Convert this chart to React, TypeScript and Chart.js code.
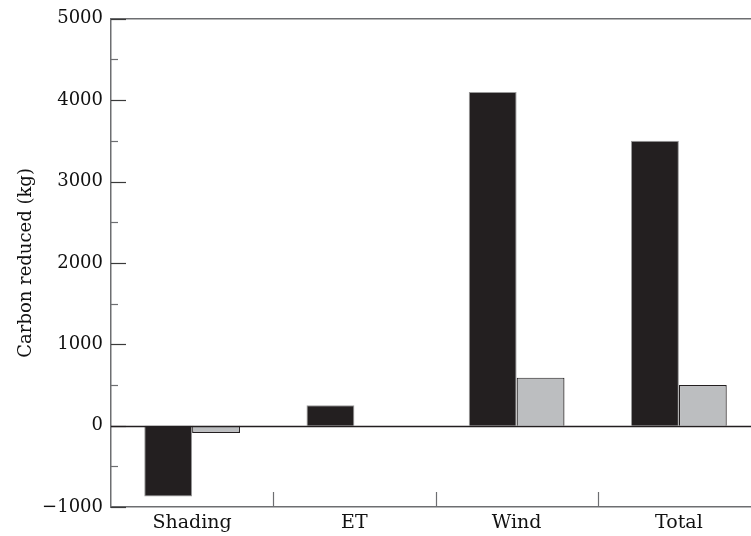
import React, { useEffect, useRef } from "react";
import { Chart, registerables } from "chart.js";

Chart.register(...registerables);

const categories = ["Shading", "ET", "Wind", "Total"];
const seriesA = [-870, 250, 4100, 3500];
const seriesB = [-90, 0, 590, 500];
const yMin = -1000;
const yMax = 5000;
const yStep = 500;
const yMajor = 1000;
const yAxisTitle = "Carbon reduced (kg)";

const DARK = "#231f20";
const GREY = "#bcbec0";
const AXIS = "#6d6e71";
const FONT = "'DejaVu Serif', serif";

const axisPlugin = {
  id: "axisDecor",
  afterDatasetsDraw(chart: any) {
    const { ctx, chartArea, scales } = chart;
    const y = scales.y;
    const x = scales.x;
    ctx.save();
    ctx.strokeStyle = AXIS;
    ctx.lineWidth = 1.5;
    ctx.beginPath();
    ctx.moveTo(chartArea.left, chartArea.top);
    ctx.lineTo(chartArea.right + 50, chartArea.top);
    ctx.stroke();
    y.ticks.forEach((t: any) => {
      const py = Math.round(y.getPixelForValue(t.value)) + 0.5;
      const major = t.value % yMajor === 0;
      ctx.strokeStyle = major ? "#3a3a3a" : AXIS;
      ctx.lineWidth = 1.2;
      ctx.beginPath();
      ctx.moveTo(chartArea.left, py);
      ctx.lineTo(chartArea.left + (major ? 15 : 7), py);
      ctx.stroke();
    });
    ctx.strokeStyle = AXIS;
    ctx.lineWidth = 1.2;
    for (let i = 1; i < categories.length; i++) {
      const px = Math.round((x.getPixelForValue(i - 1) + x.getPixelForValue(i)) / 2) + 0.5;
      ctx.beginPath();
      ctx.moveTo(px, chartArea.bottom);
      ctx.lineTo(px, chartArea.bottom - 15);
      ctx.stroke();
    }
    const zy = Math.round(y.getPixelForValue(0)) + 0.5;
    ctx.strokeStyle = DARK;
    ctx.lineWidth = 1.5;
    ctx.beginPath();
    ctx.moveTo(chartArea.left, zy);
    ctx.lineTo(chartArea.right + 50, zy);
    ctx.stroke();
    ctx.restore();
  },
};

export default function App() {
  const ref = useRef<HTMLCanvasElement>(null);
  useEffect(() => {
    if (!ref.current) return;
    const chart = new Chart(ref.current, {
      type: "bar",
      data: {
        labels: categories,
        datasets: [
          {
            data: seriesA,
            backgroundColor: DARK,
            borderColor: "#9a9a9a",
            borderWidth: 1,
          },
          {
            data: seriesB,
            backgroundColor: GREY,
            borderColor: DARK,
            borderWidth: 1.2,
          },
        ],
      },
      options: {
        responsive: false,
        animation: false,
        categoryPercentage: 0.59,
        barPercentage: 1,
        layout: { padding: { left: 16, top: 17, right: 40, bottom: 0 } },
        plugins: { legend: { display: false }, tooltip: { enabled: false } },
        scales: {
          x: {
            grid: { display: false, drawTicks: false },
            border: { display: true, color: AXIS, width: 1.5 },
            ticks: {
              color: "#111",
              font: { family: FONT, size: 19 },
              padding: 5,
              maxRotation: 0,
            },
            afterFit(s: any) {
              s.height = 29;
            },
          },
          y: {
            min: yMin,
            max: yMax,
            grid: { display: false, drawTicks: false },
            border: { display: true, color: AXIS, width: 1.5 },
            ticks: {
              stepSize: yStep,
              color: "#111",
              font: { family: FONT, size: 18 },
              padding: 8,
              callback: (v: any) =>
                Number(v) % yMajor === 0
                  ? (Number(v) < 0 ? "\u2212" + Math.abs(Number(v)) : String(v))
                  : "",
            },
            title: {
              display: true,
              text: yAxisTitle,
              color: "#111",
              font: { family: FONT, size: 18 },
              padding: 0,
            },
            afterFit(s: any) {
              s.width = 95;
            },
          },
        },
      },
      plugins: [axisPlugin],
    });
    return () => chart.destroy();
  }, []);
  return (
    <div
      style={{
        position: "fixed",
        left: 0,
        top: 0,
        width: 751,
        height: 536,
        overflow: "hidden",
        background: "#fff",
      }}
    >
      <canvas ref={ref} width={800} height={536} style={{ width: 800, height: 536 }} />
    </div>
  );
}
